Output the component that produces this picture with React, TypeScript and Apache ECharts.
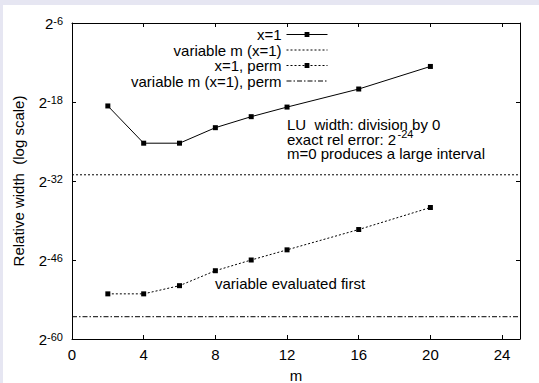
import React, { useEffect, useRef } from "react";
import * as echarts from "echarts";

// m values (x axis)
const mValues = [2, 4, 6, 8, 10, 12, 16, 20];
// log2 of relative width
const x1 = [-18.7, -25.3, -25.3, -22.55, -20.6, -18.9, -15.7, -11.7];
const x1Perm = [-52.0, -52.0, -50.55, -47.9, -46.0, -44.2, -40.6, -36.7];
const variableM = -30.9;
const variableMPerm = -56.05;
// y axis tick exponents as printed (positions are evenly spaced)
const yTickExps = ["-60", "-46", "-32", "-18", "-6"];
const seriesNames = ["x=1", "variable m (x=1)", "x=1, perm", "variable m (x=1), perm"];

const FONT = "'Liberation Sans', Arial, Helvetica, sans-serif";
const Y_MIN = -60;
const Y_MAX = -4;
const Y_INT = 14;
const X_MIN = 0;
const X_MAX = 25;
const X_INT = 4;

export default function App() {
  const ref = useRef<HTMLDivElement>(null);
  useEffect(() => {
    if (!ref.current) return;
    const chart = echarts.init(ref.current, undefined, { renderer: "svg" });
    const supRich = {
      b: { fontSize: 15, lineHeight: 15, verticalAlign: "bottom", fontFamily: FONT, color: "#000" },
      s: { fontSize: 11, lineHeight: 11, verticalAlign: "top", padding: [0, 0, 7, 0], fontFamily: FONT, color: "#000" },
    };
    const axisCommonX = {
      type: "value",
      min: X_MIN,
      max: X_MAX,
      interval: X_INT,
      splitLine: { show: false },
      axisLine: { show: true, onZero: false, lineStyle: { color: "#000", width: 1 } },
      axisTick: { show: true, inside: true, length: 4, lineStyle: { color: "#000" } },
    };
    const axisCommonY = {
      type: "value",
      min: Y_MIN,
      max: Y_MAX,
      interval: Y_INT,
      splitLine: { show: false },
      axisLine: { show: true, onZero: false, lineStyle: { color: "#000", width: 1 } },
      axisTick: { show: true, inside: true, length: 4, lineStyle: { color: "#000" } },
    };
    const textStyleBase = { fontSize: 15, fontFamily: FONT, fill: "#000", verticalAlign: "middle", align: "left", lineHeight: 12 };
    const option: any = {
      animation: false,
      backgroundColor: "#fff",
      textStyle: { fontFamily: FONT },
      grid: { left: 72, right: 19, top: 23, bottom: 44, show: false, outerBoundsMode: "none", containLabel: false },
      legend: {
        data: seriesNames.map((n, i) => ({
          name: n,
          itemStyle: i === 1 || i === 3 ? { opacity: 0 } : undefined,
        })),
        orient: "vertical",
        right: 211,
        top: 27,
        padding: 0,
        align: "right",
        itemWidth: 41,
        itemHeight: 6,
        itemGap: 0.5,
        lineStyle: { width: 1 },
        textStyle: { fontSize: 15, lineHeight: 15, color: "#000", fontFamily: FONT },
        selectedMode: false,
      },
      xAxis: [
        {
          ...axisCommonX,
          position: "bottom",
          name: "m",
          nameLocation: "middle",
          nameGap: 29,
          nameTextStyle: { fontSize: 15, color: "#000", fontFamily: FONT },
          axisLabel: { show: true, showMaxLabel: false, fontSize: 15, color: "#000", margin: 8, fontFamily: FONT },
        },
        {
          ...axisCommonX,
          position: "top",
          axisLabel: { show: false },
        },
      ],
      yAxis: [
        {
          ...axisCommonY,
          position: "left",
          name: "Relative width  (log scale)",
          nameLocation: "middle",
          nameGap: 46,
          nameTextStyle: { fontSize: 15, color: "#000", fontFamily: FONT },
          axisLabel: {
            show: true,
            margin: 9,
            formatter: (v: number) => {
              const i = Math.round((v - Y_MIN) / Y_INT);
              const e = yTickExps[i];
              return e === undefined ? "" : `{b|2}{s|${e}}`;
            },
            rich: supRich,
          },
        },
        {
          ...axisCommonY,
          position: "right",
          axisLabel: { show: false },
        },
      ],
      series: [
        {
          name: seriesNames[0],
          type: "line",
          data: mValues.map((m, i) => [m, x1[i]]),
          symbol: "rect",
          symbolSize: 5,
          itemStyle: { color: "#000" },
          lineStyle: { color: "#000", width: 1, type: "solid" },
        },
        {
          name: seriesNames[1],
          type: "line",
          data: [[X_MIN, variableM], [X_MAX, variableM]],
          symbol: "none",
          itemStyle: { color: "#000" },
          lineStyle: { color: "#000", width: 1, type: [2, 2] },
        },
        {
          name: seriesNames[2],
          type: "line",
          data: mValues.map((m, i) => [m, x1Perm[i]]),
          symbol: "rect",
          symbolSize: 5,
          itemStyle: { color: "#000" },
          lineStyle: { color: "#000", width: 1, type: [2, 2] },
        },
        {
          name: seriesNames[3],
          type: "line",
          data: [[X_MIN, variableMPerm], [X_MAX, variableMPerm]],
          symbol: "none",
          itemStyle: { color: "#000" },
          lineStyle: { color: "#000", width: 1, type: [5, 2, 1.5, 2] },
        },
      ],
      graphic: [
        { type: "rect", shape: { x: 0, y: 0, width: 539, height: 5 }, style: { fill: "#e6e6f2" }, silent: true },
        { type: "rect", shape: { x: 0, y: 0, width: 3, height: 383 }, style: { fill: "#e6e6f2" }, silent: true },
        { type: "text", x: 287, y: 124.5, style: { ...textStyleBase, text: "LU  width: division by 0" } },
        { type: "text", x: 287, y: 139, style: { ...textStyleBase, text: "exact rel error: 2" } },
        { type: "text", x: 397.5, y: 133.5, style: { ...textStyleBase, fontSize: 11, lineHeight: 8, text: "-24" } },
        { type: "text", x: 287, y: 153.5, style: { ...textStyleBase, text: "m=0 produces a large interval" } },
        { type: "text", x: 215, y: 283, style: { ...textStyleBase, text: "variable evaluated first" } },
      ],
    };
    chart.setOption(option);
    return () => chart.dispose();
  }, []);
  return (
    <div
      ref={ref}
      style={{ position: "fixed", left: 0, top: 0, width: 539, height: 383 }}
    />
  );
}
